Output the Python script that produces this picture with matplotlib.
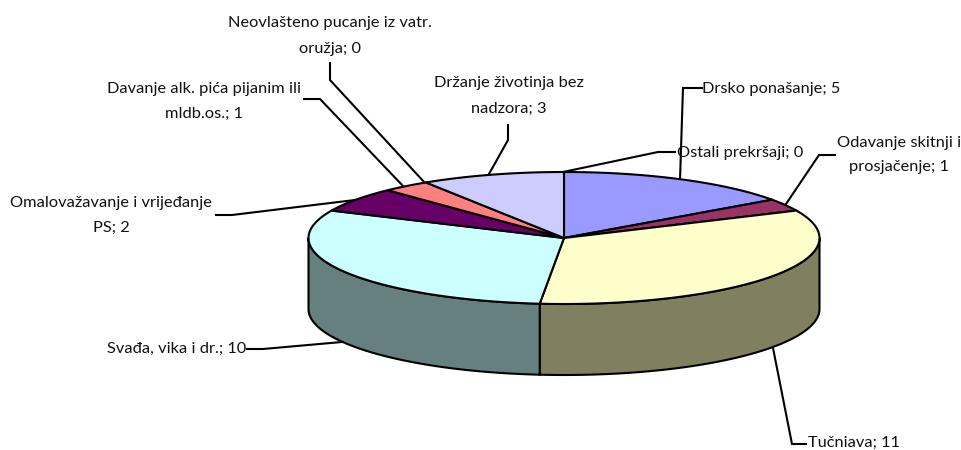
import numpy as np
import matplotlib
matplotlib.use("Agg")
import matplotlib.pyplot as plt

plt.rcParams['font.family'] = ['Lato', 'DejaVu Sans']

categories = ['Ostali prekršaji', 'Drsko ponašanje', 'Odavanje skitnji i\nprosjačenje', 'Tučniava',
              'Svađa, vika i dr.', 'Omalovažavanje i vrijeđanje\nPS', 'Davanje alk. pića pijanim ili\nmldb.os.',
              'Neovlašteno pucanje iz vatr.\noružja', 'Držanje životinja bez\nnadzora']
values = [0, 5, 1, 11, 10, 2, 1, 0, 3]
top_colors = ['#FFFFFF', '#9999FF', '#993366', '#FFFFCC', '#CCFFFF', '#660066', '#FF8080', '#FFFFFF', '#CCCCFF']
side_colors = ['#808080', '#4D4D80', '#4D1A33', '#808060', '#668080', '#330033', '#804040', '#808080', '#666680']

# label position (px), alignment, leader line
label_x = [677, 702, 899, 808, 246, 111, 204, 330, 509]
label_y = [153, 89, 155, 443, 349, 215, 101, 36, 96]
label_ha = ['left', 'left', 'center', 'left', 'right', 'center', 'center', 'center', 'center']
leader_x = [[675, 658, 563], [702, 683, 680], [835, 819, 786], [806, 792, 773], [247, 263, 342],
            [216, 232, 355], [304, 320, 403], [330, 330, 425], [508, 508, 489]]
leader_y = [[152, 152, 172], [88, 88, 180], [155, 155, 204], [444, 444, 348], [349, 349, 342],
            [215, 215, 200], [99, 99, 186], [63, 80, 183], [125, 140, 174]]

cx, cy, rx, ry, depth = 564, 238, 255.5, 66, 71


def ell(t):
    return cx + rx * np.sin(t), cy - ry * np.cos(t)


fig = plt.figure(figsize=(9.62, 4.5), dpi=100)
ax = fig.add_axes([0, 0, 1, 1])
ax.set_xlim(0, 962)
ax.set_ylim(450, 0)
ax.axis('off')

for lx, ly in zip(leader_x, leader_y):
    ax.plot(lx, ly, color='black', lw=1.5, zorder=1, solid_joinstyle='miter')

edges = np.cumsum([0] + values) / sum(values) * 2 * np.pi

# side wall, only the front half of the ellipse shows
for i in range(len(values)):
    a = max(edges[i], np.pi / 2)
    b = min(edges[i + 1], 3 * np.pi / 2)
    if b <= a:
        continue
    t = np.linspace(a, b, 150)
    x, y = ell(t)
    ax.fill(np.r_[x, x[::-1]], np.r_[y, y[::-1] + depth], facecolor=side_colors[i],
            edgecolor='black', lw=1.5, zorder=2)

# top face
for i in range(len(values)):
    if values[i] == 0:
        continue
    t = np.linspace(edges[i], edges[i + 1], 150)
    x, y = ell(t)
    ax.fill(np.r_[cx, x], np.r_[cy, y], facecolor=top_colors[i], edgecolor='black',
            lw=1.5, zorder=3, joinstyle='miter')

for i in range(len(values)):
    ax.text(label_x[i], label_y[i], categories[i] + '; ' + str(values[i]), ha=label_ha[i], va='center',
            fontsize=11.8, color='#111111', linespacing=2.0, multialignment='center', zorder=5)

fig.savefig('out.png', dpi=100)
